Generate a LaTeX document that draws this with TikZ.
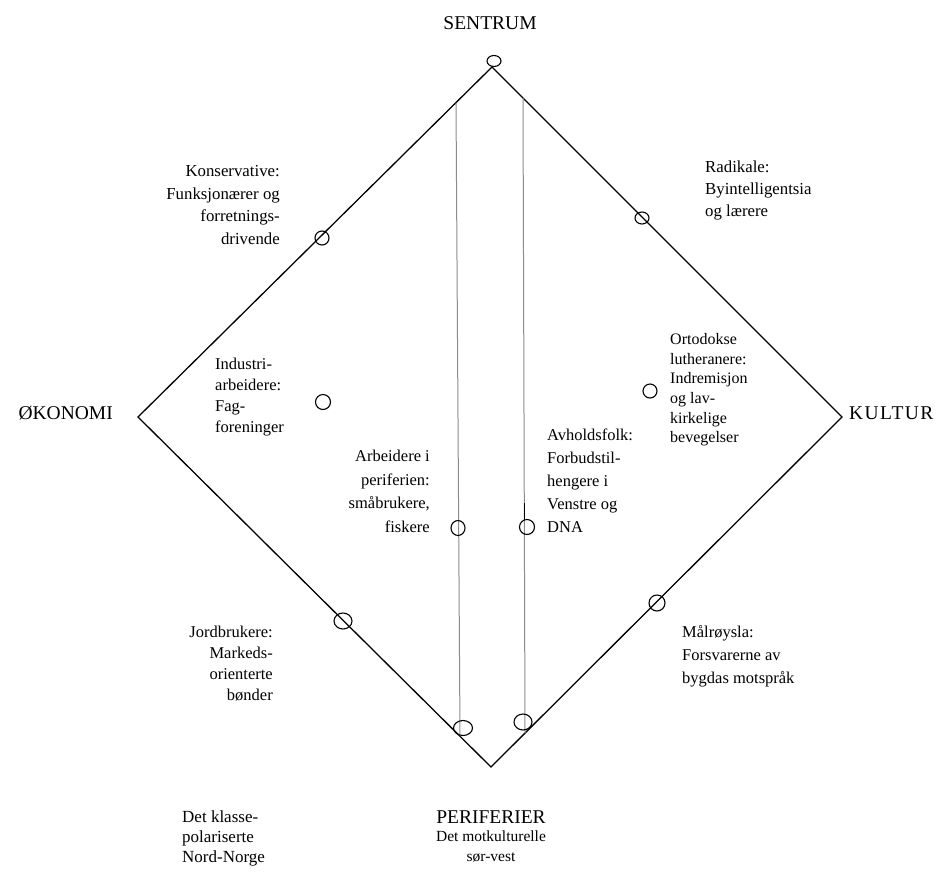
\documentclass[tikz,border=0pt]{standalone}
\usepackage{fontspec}
\setmainfont{Liberation Serif}
\usetikzlibrary{shapes.geometric}
\begin{document}
\begin{tikzpicture}[x=1pt,y=-1pt,
  edge/.style={line width=1.3pt, black, line join=miter},
  vline/.style={line width=1pt, black!45},
  ring/.style={draw, ellipse, line width=1.1pt, inner sep=0pt},
  head/.style={font=\fontsize{19.5}{22}\selectfont, inner sep=0pt},
  lbl/.style={inner sep=0pt}]
\useasboundingbox (0,0) rectangle (942,873);
\fill[white] (0,0) rectangle (942,873);

% diamond corners
\coordinate (top) at (492,67);
\coordinate (left) at (138,417);
\coordinate (bottom) at (491,767);
\coordinate (right) at (842,417);
\draw[edge] (top) -- (right) -- (bottom) -- (left) -- cycle;

% vertical lines
\coordinate (v1t) at (456,102.6);
\coordinate (v1b) at (460,736);
\coordinate (v2t) at (523,98);
\coordinate (v2b) at (525,733);
\draw[vline] (v1t) -- (v1b);
\draw[vline] (v2t) -- (v2b);
\coordinate (v2m1) at (524,503);
\coordinate (v2m2) at (524,520);
\draw[line width=1pt] (v2m1) -- (v2m2);

% circles
\node[ring, minimum width=14pt, minimum height=11pt] (ctop) at (494,61) {};
\node[ring, minimum width=14pt, minimum height=14pt] (ckons) at (322,238) {};
\node[ring, minimum width=14pt, minimum height=12pt] (crad) at (642,218) {};
\node[ring, minimum width=15pt, minimum height=15pt] (cind) at (323,402) {};
\node[ring, minimum width=14pt, minimum height=14pt] (cort) at (650,391) {};
\node[ring, minimum width=14pt, minimum height=15pt] (carb) at (458,528) {};
\node[ring, minimum width=15pt, minimum height=15pt] (cavh) at (527,527) {};
\node[ring, minimum width=18pt, minimum height=16pt] (cjord) at (343,621) {};
\node[ring, minimum width=16pt, minimum height=16pt] (cmal) at (657,603) {};
\node[ring, minimum width=19pt, minimum height=15pt] (cbl) at (463,728) {};
\node[ring, minimum width=18pt, minimum height=16pt] (cbr) at (523,722) {};

% axis labels
\node[head] (sentrum) at (490,23) {SENTRUM};
\node[head, anchor=east] (okonomi) at (113,413) {ØKONOMI};
\node[head, anchor=west] (kultur) at (849,413) {\addfontfeature{LetterSpace=7}KULTUR};
\node[head] (periferier) at (491,817) {PERIFERIER};

% labels
\node[lbl, anchor=north, align=center, font=\fontsize{15.5}{19.5}\selectfont] (motkult) at (491,831) {Det motkulturelle\\sør-vest};
\node[lbl, anchor=north west, align=left, font=\fontsize{17}{20}\selectfont] (klasse) at (182,810) {Det klasse-\\polariserte\\Nord-Norge};
\node[lbl, anchor=north east, align=right, font=\fontsize{16.8}{22.7}\selectfont] (kons) at (280,165) {Konservative:\\Funksjonærer og\\forretnings-\\drivende};
\node[lbl, anchor=north west, align=left, font=\fontsize{16.8}{22}\selectfont] (rad) at (705,161) {Radikale:\\Byintelligentsia\\og lærere};
\node[lbl, anchor=north west, align=left, font=\fontsize{16.5}{21}\selectfont] (ind) at (215,358) {Industri-\\arbeidere:\\Fag-\\foreninger};
\node[lbl, anchor=north west, align=left, font=\fontsize{16}{19.7}\selectfont] (ort) at (670,333) {Ortodokse\\lutheranere:\\Indremisjon\\og lav-\\kirkelige\\bevegelser};
\node[lbl, anchor=north east, align=right, font=\fontsize{16.5}{23.5}\selectfont] (arb) at (430,450) {Arbeidere i\\periferien:\\småbrukere,\\fiskere};
\node[lbl, anchor=north west, align=left, font=\fontsize{16.5}{23}\selectfont] (avh) at (547,429) {Avholdsfolk:\\Forbudstil-\\hengere i\\Venstre og\\DNA};
\node[lbl, anchor=north east, align=right, font=\fontsize{16.5}{21}\selectfont] (jord) at (273,626) {Jordbrukere:\\Markeds-\\orienterte\\bønder};
\node[lbl, anchor=north west, align=left, font=\fontsize{16.5}{23}\selectfont] (mal) at (682,625) {Målrøysla:\\Forsvarerne av\\bygdas motspråk};
\end{tikzpicture}
\end{document}
